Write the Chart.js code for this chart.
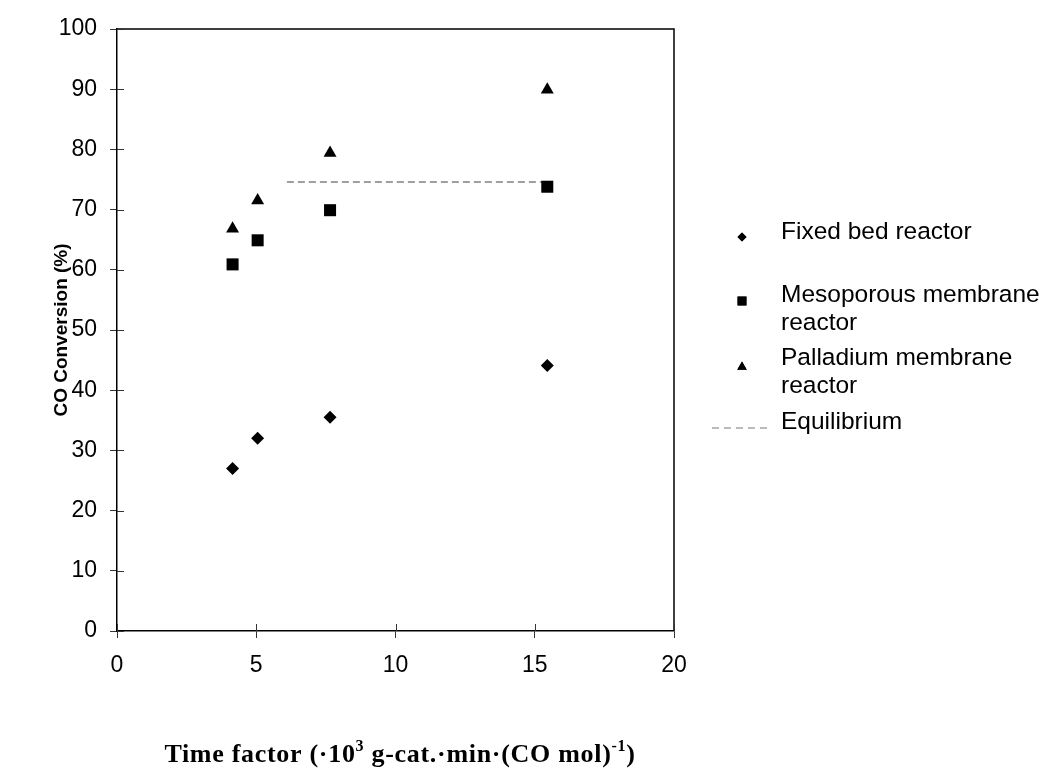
<!DOCTYPE html>
<html>
<head>
<meta charset="utf-8">
<title>CO Conversion vs Time factor</title>
<script src="https://cdn.jsdelivr.net/npm/chart.js@4.4.1/dist/chart.umd.min.js"></script>
<style>
    html, body { margin: 0; padding: 0; background: #fff; }
    #wrap { width: 1046px; height: 782px; }
</style>
</head>
<body>
<div id="wrap"><canvas id="chart" width="1046" height="782"></canvas></div>
<script>
// Values
const timeFactor = [4.15, 5.05, 7.65, 15.45];
const fixedBed = [27.0, 32.0, 35.5, 44.1];
const mesoporous = [60.9, 64.9, 69.9, 73.8];
const palladium = [66.8, 71.5, 79.4, 89.9];
const equilibriumX = [6.1, 15.45];
const equilibriumY = [74.6, 74.6];

const xTicks = [0, 5, 10, 15, 20];
const yTicks = [0, 10, 20, 30, 40, 50, 60, 70, 80, 90, 100];

const seriesNames = ['Fixed bed reactor', 'Mesoporous membrane reactor', 'Palladium membrane reactor', 'Equilibrium'];
const legendLines = [['Fixed bed reactor'], ['Mesoporous membrane', 'reactor'], ['Palladium membrane', 'reactor'], ['Equilibrium']];
const yTitle = 'CO Conversion (%)';
const xTitleParts = [
    { text: 'Time factor (\u00b710', sup: false },
    { text: '3', sup: true },
    { text: ' g-cat.\u00b7min\u00b7(CO mol)', sup: false },
    { text: '-1', sup: true },
    { text: ')', sup: false },
];

const toPoints = (xs, ys) => xs.map((x, i) => ({ x: x, y: ys[i] }));

const SANS = '"Liberation Sans", Arial, sans-serif';
const SERIF = '"Liberation Serif", "Times New Roman", serif';

// Box, inner tick marks, x title with superscripts, legend on the right
const decorPlugin = {
    id: 'decor',
    afterDraw(chart) {
        const { ctx, chartArea: a, scales } = chart;
        ctx.save();

        // top and right frame
        ctx.strokeStyle = '#000';
        ctx.lineWidth = 1.5;
        ctx.beginPath();
        ctx.moveTo(a.left, a.top);
        ctx.lineTo(a.right, a.top);
        ctx.lineTo(a.right, a.bottom);
        ctx.stroke();

        // tick marks reaching into the plot
        ctx.strokeStyle = '#333';
        ctx.lineWidth = 1;
        ctx.beginPath();
        yTicks.forEach(v => {
            const y = Math.round(scales.y.getPixelForValue(v)) + 0.5;
            ctx.moveTo(a.left, y);
            ctx.lineTo(a.left + 7, y);
        });
        xTicks.forEach(v => {
            const x = Math.round(scales.x.getPixelForValue(v)) + 0.5;
            ctx.moveTo(x, a.bottom);
            ctx.lineTo(x, a.bottom - 7);
        });
        ctx.stroke();

        // x axis title
        const mainFont = 'bold 26px ' + SERIF;
        const supFont = 'bold 16px ' + SERIF;
        ctx.letterSpacing = '0.7px';
        let total = 0;
        xTitleParts.forEach(p => {
            ctx.font = p.sup ? supFont : mainFont;
            total += ctx.measureText(p.text).width;
        });
        let tx = 400 - total / 2;
        const baseY = 762;
        ctx.fillStyle = '#000';
        ctx.textBaseline = 'alphabetic';
        ctx.textAlign = 'left';
        xTitleParts.forEach(p => {
            ctx.font = p.sup ? supFont : mainFont;
            ctx.fillText(p.text, tx, p.sup ? baseY - 11 : baseY);
            tx += ctx.measureText(p.text).width;
        });
        ctx.letterSpacing = '0px';

        // legend
        const markerX = 742;
        const textX = 781;
        const lineGap = 28;
        const rows = [232, 295, 358, 422];
        const markerOffsets = [5, 6, 9];
        ctx.font = '24.5px ' + SANS;
        ctx.textBaseline = 'middle';
        legendLines.forEach((lines, i) => {
            lines.forEach((t, j) => ctx.fillText(t, textX, rows[i] + j * lineGap));
            const ds = chart.data.datasets[i];
            if (ds.showLine) {
                ctx.strokeStyle = '#777';
                ctx.lineWidth = 1;
                ctx.setLineDash([7, 5]);
                ctx.beginPath();
                ctx.moveTo(712, rows[i] + 6);
                ctx.lineTo(772, rows[i] + 6);
                ctx.stroke();
                ctx.setLineDash([]);
            } else {
                ctx.fillStyle = '#000';
                Chart.helpers.drawPoint(ctx, {
                    pointStyle: ds.pointStyle,
                    radius: ds.legendRadius,
                    borderWidth: 0,
                    rotation: 0,
                }, markerX, rows[i] + markerOffsets[i]);
                ctx.fill();
            }
        });

        ctx.restore();
    }
};

const ctx = document.getElementById('chart').getContext('2d');

// Define chart configuration
const config = {
    type: 'scatter',
    data: {
        datasets: [
            {
                label: seriesNames[0],
                data: toPoints(timeFactor, fixedBed),
                pointStyle: 'rectRot',
                pointRadius: 6.5,
                legendRadius: 4.5,
                backgroundColor: '#000',
                borderWidth: 0,
            },
            {
                label: seriesNames[1],
                data: toPoints(timeFactor, mesoporous),
                pointStyle: 'rect',
                pointRadius: 8.5,
                legendRadius: 6.3,
                backgroundColor: '#000',
                borderWidth: 0,
            },
            {
                label: seriesNames[2],
                data: toPoints(timeFactor, palladium),
                pointStyle: 'triangle',
                pointRadius: 7.5,
                legendRadius: 5.5,
                backgroundColor: '#000',
                borderWidth: 0,
            },
            {
                label: seriesNames[3],
                type: 'line',
                data: toPoints(equilibriumX, equilibriumY),
                showLine: true,
                borderColor: '#808080',
                borderWidth: 1.5,
                borderDash: [7, 4],
                pointRadius: 0,
                fill: false,
            },
        ],
    },
    options: {
        responsive: false,
        animation: false,
        layout: {
            padding: { top: 29, right: 372, bottom: 0, left: 0 },
        },
        plugins: {
            legend: { display: false },
            tooltip: { enabled: false },
        },
        scales: {
            x: {
                type: 'linear',
                min: 0,
                max: 20,
                afterBuildTicks: scale => { scale.ticks = xTicks.map(v => ({ value: v })); },
                afterFit: scale => { scale.height = 151; },
                ticks: {
                    color: '#000',
                    font: { family: SANS, size: 23 },
                    padding: 14,
                },
                grid: {
                    drawOnChartArea: false,
                    drawTicks: true,
                    tickLength: 7,
                    color: '#333',
                },
                border: { color: '#000', width: 1.5 },
            },
            y: {
                type: 'linear',
                min: 0,
                max: 100,
                afterBuildTicks: scale => { scale.ticks = yTicks.map(v => ({ value: v })); },
                afterFit: scale => { scale.width = 117; },
                ticks: {
                    color: '#000',
                    font: { family: SANS, size: 23 },
                    padding: 13,
                },
                grid: {
                    drawOnChartArea: false,
                    drawTicks: true,
                    tickLength: 7,
                    color: '#333',
                },
                border: { color: '#000', width: 1.5 },
                title: {
                    display: true,
                    text: yTitle,
                    color: '#000',
                    font: { family: SANS, size: 19, weight: 'bold' },
                    padding: { top: 50, bottom: 0 },
                },
            },
        },
    },
    plugins: [decorPlugin],
};

// Create the chart instance
const chart = new Chart(ctx, config);
</script>
</body>
</html>
